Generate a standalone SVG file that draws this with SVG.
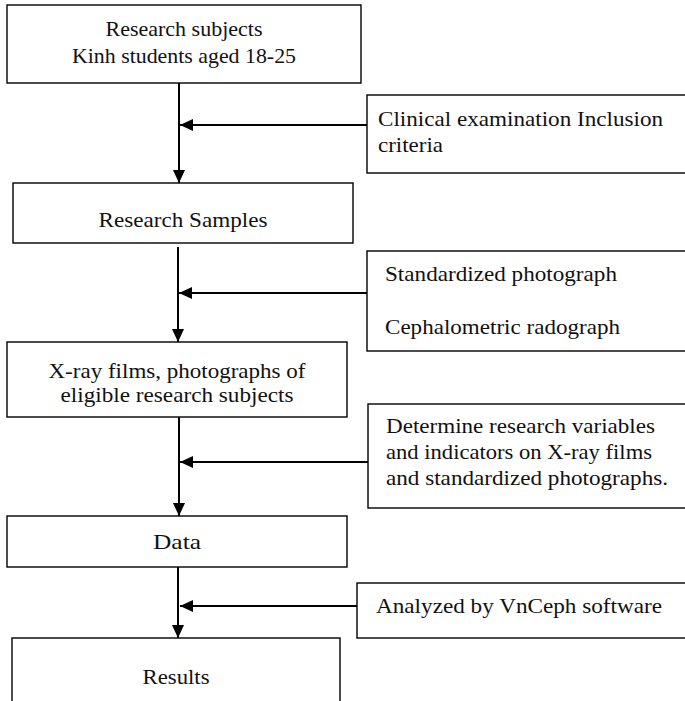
<svg xmlns="http://www.w3.org/2000/svg" width="685" height="701" viewBox="0 0 685 701">
<style>
.box{fill:#fff;stroke:#000;stroke-width:1.4}
.t{font-family:"Liberation Serif","Times New Roman",serif;font-size:21px;fill:#111}
.c{text-anchor:middle}
.ln{stroke:#000;stroke-width:2;fill:none}
</style>
<defs>
<marker id="ah" viewBox="0 0 13 12" refX="13" refY="6" markerWidth="13" markerHeight="12" markerUnits="userSpaceOnUse" orient="auto">
<path d="M0,0 L13,6 L0,12 Z" fill="#000"/>
</marker>
</defs>
<rect width="685" height="701" fill="#fff"/>
<g id="connectors">
<line class="ln" x1="179" y1="83" x2="179" y2="183" marker-end="url(#ah)"/>
<line class="ln" x1="367" y1="125" x2="180" y2="125" marker-end="url(#ah)"/>
<line class="ln" x1="178" y1="247" x2="178" y2="342" marker-end="url(#ah)"/>
<line class="ln" x1="367" y1="293" x2="179" y2="293" marker-end="url(#ah)"/>
<line class="ln" x1="179" y1="417" x2="179" y2="516" marker-end="url(#ah)"/>
<line class="ln" x1="368" y1="462" x2="180" y2="462" marker-end="url(#ah)"/>
<line class="ln" x1="178" y1="567" x2="178" y2="638" marker-end="url(#ah)"/>
<line class="ln" x1="357" y1="606" x2="180" y2="606" marker-end="url(#ah)"/>
</g>
<g id="subjects">
<rect class="box" x="7" y="5" width="354" height="78"/>
<text class="t c" x="184" y="36" textLength="157" lengthAdjust="spacingAndGlyphs">Research subjects</text>
<text class="t c" x="184" y="63" textLength="224" lengthAdjust="spacingAndGlyphs">Kinh students aged 18-25</text>
</g>
<g id="clinical">
<rect class="box" x="367" y="95" width="330" height="78"/>
<text class="t" x="378" y="126" textLength="285" lengthAdjust="spacingAndGlyphs">Clinical examination Inclusion</text>
<text class="t" x="378" y="152" textLength="65" lengthAdjust="spacingAndGlyphs">criteria</text>
</g>
<g id="samples">
<rect class="box" x="13" y="183" width="340" height="60"/>
<text class="t c" x="183" y="227" textLength="169" lengthAdjust="spacingAndGlyphs">Research Samples</text>
</g>
<g id="photo">
<rect class="box" x="367" y="251" width="330" height="100"/>
<text class="t" x="385" y="281" textLength="232" lengthAdjust="spacingAndGlyphs">Standardized photograph</text>
<text class="t" x="385" y="334" textLength="235" lengthAdjust="spacingAndGlyphs">Cephalometric radograph</text>
</g>
<g id="xray">
<rect class="box" x="7" y="342" width="340" height="75"/>
<text class="t c" x="177" y="378" textLength="257" lengthAdjust="spacingAndGlyphs">X-ray films, photographs of</text>
<text class="t c" x="177" y="402" textLength="233" lengthAdjust="spacingAndGlyphs">eligible research subjects</text>
</g>
<g id="determine">
<rect class="box" x="368" y="404" width="330" height="104"/>
<text class="t" x="386" y="433" textLength="269" lengthAdjust="spacingAndGlyphs">Determine research variables</text>
<text class="t" x="386" y="459" textLength="266" lengthAdjust="spacingAndGlyphs">and indicators on X-ray films</text>
<text class="t" x="386" y="485" textLength="282" lengthAdjust="spacingAndGlyphs">and standardized photographs.</text>
</g>
<g id="data">
<rect class="box" x="7" y="516" width="340" height="51"/>
<text class="t c" x="177" y="549" textLength="48" lengthAdjust="spacingAndGlyphs">Data</text>
</g>
<g id="vnceph">
<rect class="box" x="357" y="583" width="340" height="55"/>
<text class="t" x="376" y="613" textLength="286" lengthAdjust="spacingAndGlyphs">Analyzed by VnCeph software</text>
</g>
<g id="results">
<rect class="box" x="12" y="638" width="328" height="80"/>
<text class="t c" x="176" y="684" textLength="67" lengthAdjust="spacingAndGlyphs">Results</text>
</g>
</svg>
